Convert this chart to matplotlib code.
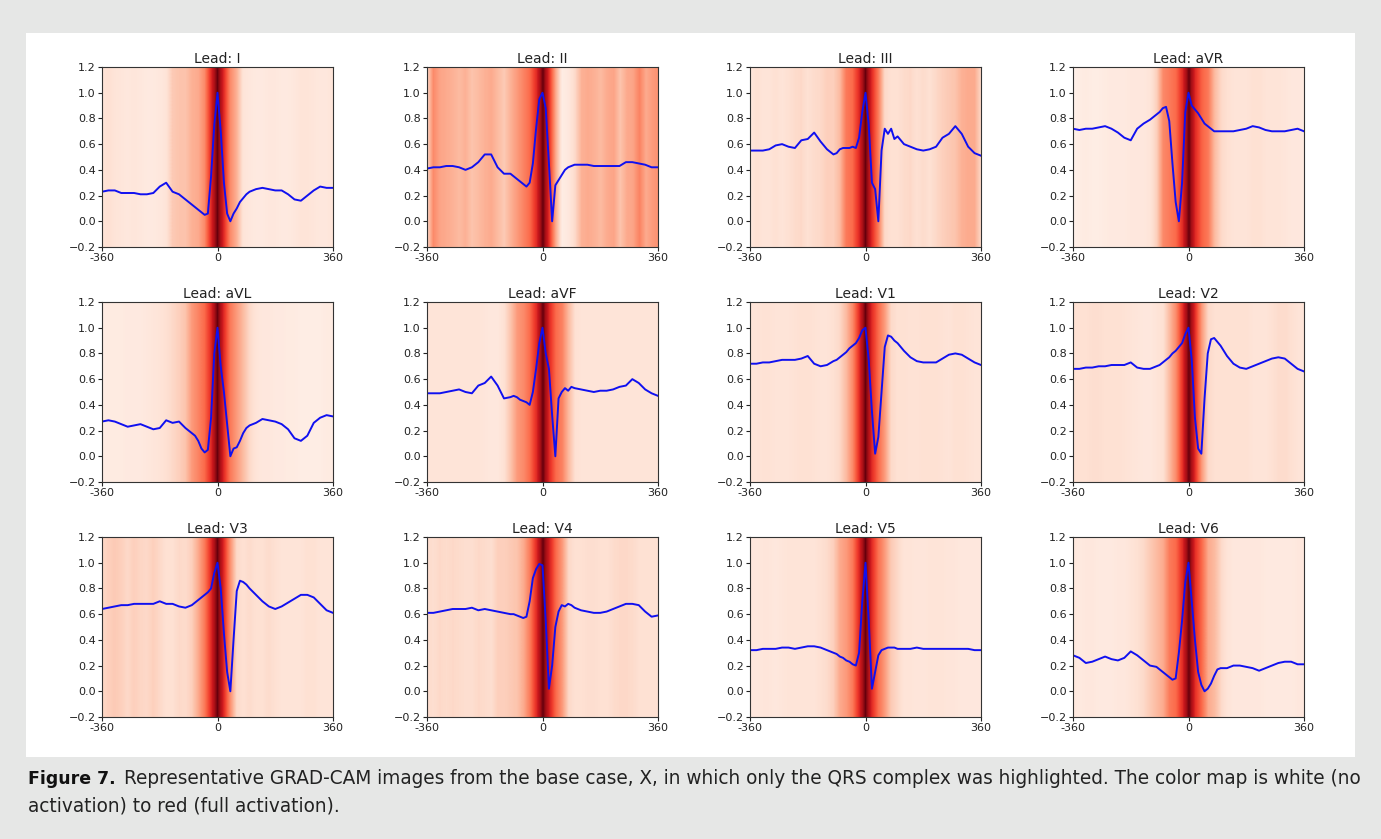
import numpy as np
import matplotlib
matplotlib.use("Agg")
import matplotlib.pyplot as plt
from matplotlib.patches import Rectangle

# sample grid of the ECG traces (coarse on the sides, finer around the QRS)
x_ecg = np.concatenate([np.arange(-360, -100, 20), np.arange(-100, 101, 10), np.arange(120, 361, 20)])
# GRAD-CAM bins, one value every 20 samples
x_cam = np.arange(-360, 361, 20)

leads = ["I", "II", "III", "aVR", "aVL", "aVF", "V1", "V2", "V3", "V4", "V5", "V6"]

ecg_I = [0.23, 0.24, 0.24, 0.22, 0.22, 0.22, 0.21, 0.21, 0.22, 0.27, 0.30, 0.23, 0.21,
         0.17, 0.15, 0.13, 0.11, 0.09, 0.07, 0.05, 0.06, 0.35, 0.75, 1.00, 0.70, 0.30, 0.06, 0.00, 0.06, 0.10, 0.15, 0.18, 0.21, 0.23,
         0.25, 0.26, 0.25, 0.24, 0.24, 0.21, 0.17, 0.16, 0.20, 0.24, 0.27, 0.26, 0.26]
ecg_II = [0.41, 0.42, 0.42, 0.43, 0.43, 0.42, 0.40, 0.42, 0.46, 0.52, 0.52, 0.42, 0.37,
          0.37, 0.35, 0.33, 0.31, 0.29, 0.27, 0.30, 0.45, 0.72, 0.95, 1.00, 0.88, 0.45, 0.00, 0.28, 0.32, 0.36, 0.40, 0.42, 0.43, 0.44,
          0.44, 0.44, 0.43, 0.43, 0.43, 0.43, 0.43, 0.46, 0.46, 0.45, 0.44, 0.42, 0.42]
ecg_III = [0.55, 0.55, 0.55, 0.56, 0.59, 0.60, 0.58, 0.57, 0.63, 0.64, 0.69, 0.62, 0.56,
           0.52, 0.53, 0.56, 0.57, 0.57, 0.57, 0.58, 0.57, 0.65, 0.85, 1.00, 0.75, 0.30, 0.25, 0.00, 0.55, 0.72, 0.68, 0.72, 0.64, 0.66,
           0.60, 0.58, 0.56, 0.55, 0.56, 0.58, 0.65, 0.68, 0.74, 0.68, 0.58, 0.53, 0.51]
ecg_aVR = [0.72, 0.71, 0.72, 0.72, 0.73, 0.74, 0.72, 0.69, 0.65, 0.63, 0.72, 0.76, 0.79,
           0.83, 0.85, 0.88, 0.89, 0.78, 0.45, 0.15, 0.00, 0.30, 0.85, 1.00, 0.90, 0.87, 0.84, 0.80, 0.76, 0.74, 0.72, 0.70, 0.70, 0.70,
           0.70, 0.70, 0.71, 0.72, 0.74, 0.73, 0.71, 0.70, 0.70, 0.70, 0.71, 0.72, 0.70]
ecg_aVL = [0.27, 0.28, 0.27, 0.25, 0.23, 0.24, 0.25, 0.23, 0.21, 0.22, 0.28, 0.26, 0.27,
           0.22, 0.20, 0.18, 0.16, 0.12, 0.06, 0.03, 0.05, 0.30, 0.80, 1.00, 0.70, 0.50, 0.25, 0.00, 0.06, 0.07, 0.12, 0.18, 0.22, 0.24,
           0.26, 0.29, 0.28, 0.27, 0.25, 0.21, 0.14, 0.12, 0.16, 0.26, 0.30, 0.32, 0.31]
ecg_aVF = [0.49, 0.49, 0.49, 0.50, 0.51, 0.52, 0.50, 0.49, 0.55, 0.57, 0.62, 0.55, 0.45,
           0.46, 0.47, 0.46, 0.44, 0.43, 0.42, 0.40, 0.50, 0.68, 0.88, 1.00, 0.80, 0.68, 0.32, 0.00, 0.45, 0.50, 0.53, 0.51, 0.54, 0.53,
           0.52, 0.51, 0.50, 0.51, 0.51, 0.52, 0.54, 0.55, 0.60, 0.57, 0.52, 0.49, 0.47]
ecg_V1 = [0.72, 0.72, 0.73, 0.73, 0.74, 0.75, 0.75, 0.75, 0.76, 0.78, 0.72, 0.70, 0.71,
          0.74, 0.75, 0.77, 0.79, 0.81, 0.84, 0.86, 0.88, 0.92, 0.98, 1.00, 0.75, 0.35, 0.02, 0.15, 0.50, 0.85, 0.94, 0.93, 0.90, 0.88,
          0.82, 0.77, 0.74, 0.73, 0.73, 0.73, 0.76, 0.79, 0.80, 0.79, 0.76, 0.73, 0.71]
ecg_V2 = [0.68, 0.68, 0.69, 0.69, 0.70, 0.70, 0.71, 0.71, 0.71, 0.73, 0.69, 0.68, 0.68,
          0.70, 0.71, 0.73, 0.75, 0.77, 0.80, 0.82, 0.85, 0.88, 0.95, 1.00, 0.75, 0.30, 0.06, 0.02, 0.45, 0.80, 0.91, 0.92, 0.89, 0.86,
          0.78, 0.72, 0.69, 0.68, 0.70, 0.72, 0.74, 0.76, 0.77, 0.76, 0.72, 0.68, 0.66]
ecg_V3 = [0.64, 0.65, 0.66, 0.67, 0.67, 0.68, 0.68, 0.68, 0.68, 0.70, 0.68, 0.68, 0.66,
          0.65, 0.66, 0.67, 0.69, 0.71, 0.73, 0.75, 0.77, 0.80, 0.92, 1.00, 0.80, 0.45, 0.15, 0.00, 0.40, 0.78, 0.86, 0.85, 0.83, 0.80,
          0.75, 0.70, 0.66, 0.64, 0.66, 0.69, 0.72, 0.75, 0.75, 0.73, 0.68, 0.63, 0.61]
ecg_V4 = [0.61, 0.61, 0.62, 0.63, 0.64, 0.64, 0.64, 0.65, 0.63, 0.64, 0.63, 0.62, 0.61,
          0.60, 0.60, 0.59, 0.58, 0.57, 0.58, 0.70, 0.88, 0.95, 0.99, 0.98, 0.55, 0.02, 0.20, 0.50, 0.62, 0.67, 0.66, 0.68, 0.67, 0.65,
          0.63, 0.62, 0.61, 0.61, 0.62, 0.64, 0.66, 0.68, 0.68, 0.67, 0.62, 0.58, 0.59]
ecg_V5 = [0.32, 0.32, 0.33, 0.33, 0.33, 0.34, 0.34, 0.33, 0.34, 0.35, 0.35, 0.34, 0.32,
          0.30, 0.29, 0.27, 0.26, 0.24, 0.23, 0.21, 0.20, 0.30, 0.70, 1.00, 0.55, 0.02, 0.15, 0.28, 0.32, 0.33, 0.34, 0.34, 0.34, 0.33,
          0.33, 0.33, 0.34, 0.33, 0.33, 0.33, 0.33, 0.33, 0.33, 0.33, 0.33, 0.32, 0.32]
ecg_V6 = [0.28, 0.26, 0.22, 0.23, 0.25, 0.27, 0.25, 0.24, 0.26, 0.31, 0.28, 0.24, 0.20,
          0.19, 0.17, 0.15, 0.13, 0.11, 0.09, 0.10, 0.30, 0.55, 0.85, 1.00, 0.70, 0.40, 0.15, 0.05, 0.00, 0.02, 0.06, 0.12, 0.17, 0.18,
          0.18, 0.20, 0.20, 0.19, 0.18, 0.16, 0.18, 0.20, 0.22, 0.23, 0.23, 0.21, 0.21]

cam_I = [0.10, 0.12, 0.10, 0.09, 0.08, 0.09, 0.08, 0.07, 0.07, 0.08, 0.10, 0.20, 0.22, 0.22, 0.28, 0.30, 0.40, 0.68,
         1.00, 0.68, 0.40, 0.28, 0.10, 0.08, 0.07, 0.07, 0.08, 0.08, 0.07, 0.07, 0.08, 0.10, 0.10, 0.09, 0.08, 0.08, 0.10]
cam_II = [0.15, 0.40, 0.32, 0.30, 0.28, 0.25, 0.28, 0.22, 0.25, 0.28, 0.30, 0.25, 0.20, 0.28, 0.35, 0.42, 0.50, 0.68,
          1.00, 0.65, 0.30, 0.05, 0.08, 0.15, 0.28, 0.30, 0.28, 0.25, 0.30, 0.32, 0.22, 0.30, 0.32, 0.42, 0.30, 0.35, 0.38]
cam_III = [0.08, 0.12, 0.10, 0.10, 0.12, 0.10, 0.12, 0.14, 0.15, 0.12, 0.14, 0.15, 0.18, 0.18, 0.25, 0.45, 0.50, 0.68,
           1.00, 0.68, 0.45, 0.15, 0.12, 0.12, 0.14, 0.15, 0.12, 0.14, 0.12, 0.15, 0.18, 0.20, 0.22, 0.28, 0.30, 0.30, 0.15]
cam_aVR = [0.03, 0.05, 0.06, 0.05, 0.05, 0.06, 0.07, 0.07, 0.07, 0.08, 0.08, 0.08, 0.10, 0.18, 0.40, 0.45, 0.50, 0.68,
           1.00, 0.68, 0.52, 0.45, 0.25, 0.15, 0.12, 0.10, 0.10, 0.10, 0.12, 0.12, 0.10, 0.10, 0.10, 0.09, 0.08, 0.08, 0.07]
cam_aVL = [0.05, 0.06, 0.06, 0.06, 0.07, 0.07, 0.07, 0.08, 0.09, 0.10, 0.12, 0.15, 0.18, 0.22, 0.35, 0.42, 0.50, 0.68,
           1.00, 0.68, 0.45, 0.35, 0.25, 0.15, 0.10, 0.08, 0.08, 0.07, 0.07, 0.06, 0.06, 0.05, 0.05, 0.05, 0.05, 0.06, 0.06]
cam_aVF = [0.10, 0.10, 0.10, 0.10, 0.10, 0.10, 0.10, 0.10, 0.10, 0.09, 0.08, 0.08, 0.12, 0.22, 0.35, 0.40, 0.50, 0.68,
           1.00, 0.68, 0.50, 0.42, 0.25, 0.12, 0.10, 0.10, 0.10, 0.10, 0.10, 0.10, 0.10, 0.10, 0.10, 0.10, 0.10, 0.10, 0.10]
cam_V1 = [0.10, 0.10, 0.11, 0.11, 0.10, 0.10, 0.10, 0.11, 0.12, 0.12, 0.11, 0.10, 0.10, 0.12, 0.15, 0.25, 0.40, 0.66,
          1.00, 0.68, 0.50, 0.35, 0.15, 0.12, 0.12, 0.11, 0.11, 0.12, 0.12, 0.12, 0.11, 0.10, 0.12, 0.12, 0.11, 0.10, 0.10]
cam_V2 = [0.12, 0.12, 0.12, 0.13, 0.13, 0.12, 0.12, 0.12, 0.11, 0.10, 0.09, 0.08, 0.08, 0.10, 0.12, 0.25, 0.40, 0.66,
          1.00, 0.66, 0.35, 0.15, 0.12, 0.12, 0.12, 0.12, 0.12, 0.12, 0.10, 0.10, 0.10, 0.12, 0.14, 0.14, 0.12, 0.10, 0.10]
cam_V3 = [0.15, 0.18, 0.20, 0.18, 0.15, 0.18, 0.16, 0.15, 0.18, 0.15, 0.12, 0.12, 0.15, 0.14, 0.18, 0.30, 0.45, 0.68,
          1.00, 0.68, 0.38, 0.15, 0.12, 0.14, 0.12, 0.12, 0.14, 0.12, 0.10, 0.10, 0.10, 0.10, 0.12, 0.12, 0.10, 0.10, 0.10]
cam_V4 = [0.14, 0.13, 0.15, 0.14, 0.15, 0.14, 0.13, 0.13, 0.15, 0.14, 0.13, 0.18, 0.18, 0.20, 0.22, 0.30, 0.45, 0.68,
          1.00, 0.72, 0.50, 0.35, 0.15, 0.12, 0.12, 0.13, 0.13, 0.12, 0.12, 0.14, 0.15, 0.15, 0.14, 0.12, 0.12, 0.12, 0.12]
cam_V5 = [0.08, 0.08, 0.09, 0.09, 0.08, 0.09, 0.10, 0.10, 0.10, 0.10, 0.10, 0.12, 0.14, 0.18, 0.30, 0.35, 0.45, 0.68,
          1.00, 0.68, 0.48, 0.35, 0.20, 0.15, 0.10, 0.10, 0.09, 0.09, 0.10, 0.10, 0.10, 0.09, 0.09, 0.08, 0.08, 0.08, 0.08]
cam_V6 = [0.08, 0.07, 0.08, 0.08, 0.07, 0.07, 0.07, 0.08, 0.08, 0.10, 0.12, 0.15, 0.20, 0.25, 0.30, 0.45, 0.50, 0.68,
          1.00, 0.66, 0.50, 0.30, 0.25, 0.15, 0.10, 0.08, 0.08, 0.08, 0.08, 0.08, 0.07, 0.07, 0.07, 0.07, 0.07, 0.08, 0.08]

ecgs = [ecg_I, ecg_II, ecg_III, ecg_aVR, ecg_aVL, ecg_aVF, ecg_V1, ecg_V2, ecg_V3, ecg_V4, ecg_V5, ecg_V6]
cams = [cam_I, cam_II, cam_III, cam_aVR, cam_aVL, cam_aVF, cam_V1, cam_V2, cam_V3, cam_V4, cam_V5, cam_V6]

caption_bold = "Figure 7."
caption_line1 = ("Representative GRAD-CAM images from the base case, X, in which only the QRS complex "
                 "was highlighted. The color map is white (no")
caption_line2 = "activation) to red (full activation)."

W, H = 1381, 839
fig = plt.figure(figsize=(W / 100, H / 100), dpi=100)
fig.patch.set_facecolor("#e6e7e6")
# white panel behind the plots
fig.add_artist(Rectangle((26 / W, 1 - 757 / H), (1355 - 26) / W, (757 - 33) / H,
                         transform=fig.transFigure, facecolor="white", edgecolor="none", zorder=0))

lefts = [102, 427, 750, 1073]
tops = [67, 302, 537]
aw, ah = 231, 180

for i, name in enumerate(leads):
    r, c = divmod(i, 4)
    ax = fig.add_axes([lefts[c] / W, 1 - (tops[r] + ah) / H, aw / W, ah / H])
    cam = np.array(cams[i])[np.newaxis, :]
    ax.imshow(cam, cmap="Reds", vmin=0, vmax=1, aspect="auto", interpolation="bilinear",
              extent=[x_cam[0] - 10, x_cam[-1] + 10, -0.2, 1.2])
    ax.plot(x_ecg, ecgs[i], color="#1010f0", lw=1.4)
    ax.set_xlim(-360, 360)
    ax.set_ylim(-0.2, 1.2)
    ax.set_xticks([-360, 0, 360])
    ax.set_xticklabels(["-360", "0", "360"])
    ax.set_yticks([-0.2, 0.0, 0.2, 0.4, 0.6, 0.8, 1.0, 1.2])
    ax.tick_params(labelsize=8, length=3, width=0.8, colors="#222222", pad=1.5)
    for s in ax.spines.values():
        s.set_linewidth(0.8)
        s.set_color("#333333")
    ax.set_title("Lead: " + name, fontsize=10, pad=3, color="#222222")

# caption, sized so the first line ends where the reference line ends
fig.canvas.draw()
rend = fig.canvas.get_renderer()
y1, y2 = 1 - 779 / H, 1 - 806 / H
t = fig.text(28 / W, y1, caption_bold, fontsize=12.5, fontweight="bold",
             va="center", ha="left", color="#111111")
bb = t.get_window_extent(renderer=rend)
x_body = bb.x1 + 8
t1 = fig.text(x_body / W, y1, caption_line1, fontsize=12, va="center", ha="left", color="#222222")
w1 = t1.get_window_extent(renderer=rend).width
fs = 12 * (1362 - x_body) / w1
t1.set_fontsize(fs)
fig.text(28 / W, y2, caption_line2, fontsize=fs, va="center", ha="left", color="#222222")

fig.savefig("out.png", dpi=100, facecolor=fig.get_facecolor())
